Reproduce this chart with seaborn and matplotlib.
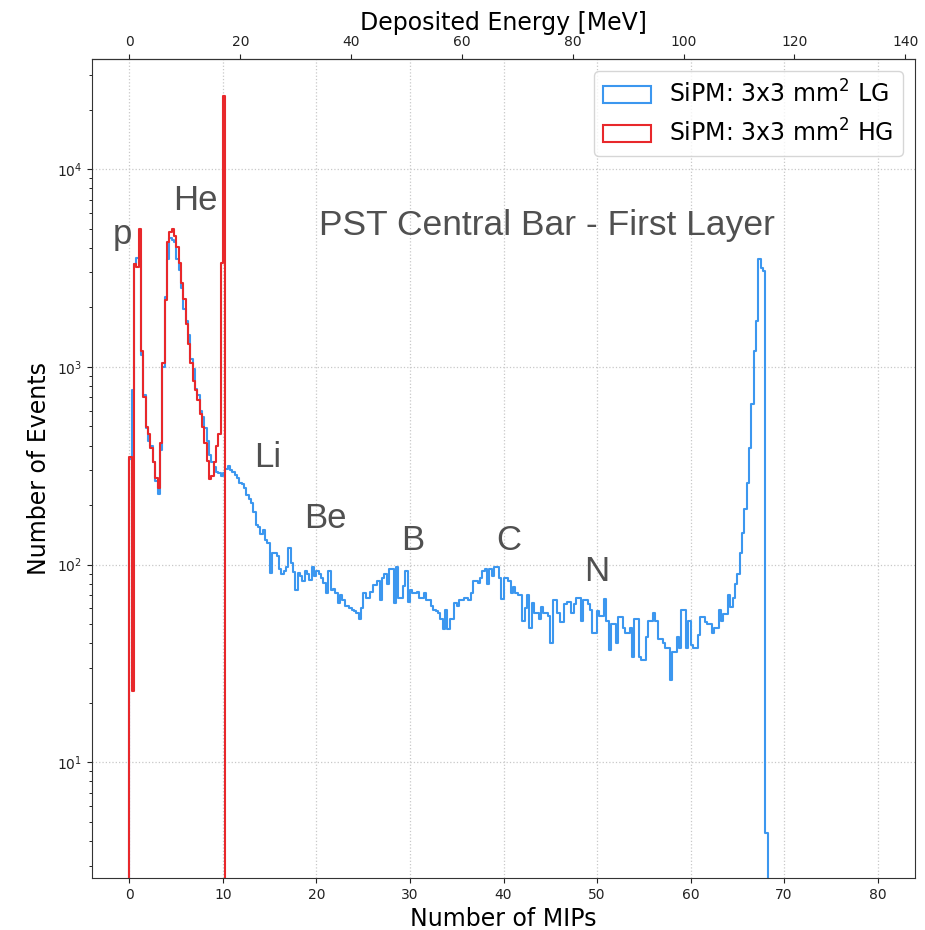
import numpy as np
import pandas as pd
import matplotlib
matplotlib.use("Agg")
import matplotlib.pyplot as plt
from matplotlib.patches import Patch
import seaborn as sns

# Histogram binning in MIPs (0.25 MIP wide bins; one empty bin below zero)
BIN_WIDTH = 0.25
BIN_START = -0.25
BIN_STOP = 80.0

# Low-gain channel counts per bin, starting at 0 MIP
LG_COUNTS = [
    340, 760, 3300, 3550, 3450, 1150, 720, 490, 420, 400,
    330, 265, 228, 380, 1000, 2250, 3500, 4500, 4400, 4300,
    3500, 3100, 2500, 1950, 1700, 1450, 1100, 980, 770, 720,
    600, 560, 490, 420, 360, 330, 310, 295, 290, 280,
    290, 305, 315, 300, 295, 285, 275, 260, 255, 243,
    225, 215, 205, 185, 158, 155, 142, 150, 133, 128,
    91, 115, 114, 110, 95, 90, 93, 97, 121, 102,
    92, 74, 91, 88, 83, 93, 90, 84, 97, 88,
    93, 90, 86, 81, 72, 93, 74, 75, 72, 64,
    70, 66, 62, 62, 60, 59, 58, 57, 53, 60,
    72, 68, 68, 73, 79, 79, 83, 66, 86, 90,
    80, 95, 95, 64, 97, 68, 68, 78, 93, 65,
    74, 72, 72, 73, 68, 68, 72, 66, 66, 62,
    59, 58, 57, 53, 47, 59, 47, 53, 53, 64,
    62, 66, 66, 68, 68, 66, 72, 83, 83, 81,
    86, 93, 95, 80, 95, 88, 97, 97, 86, 67,
    86, 86, 83, 72, 77, 72, 70, 70, 52, 60,
    70, 48, 64, 57, 57, 53, 61, 57, 57, 55,
    40, 66, 66, 57, 51, 51, 63, 65, 65, 57,
    63, 68, 68, 52, 66, 66, 63, 59, 45, 45,
    58, 55, 55, 67, 52, 37, 50, 50, 40, 54,
    54, 48, 45, 45, 48, 34, 53, 53, 34, 33,
    33, 43, 52, 52, 57, 52, 42, 42, 40, 38,
    38, 26, 36, 36, 43, 38, 59, 59, 38, 52,
    39, 38, 38, 44, 54, 54, 51, 50, 50, 45,
    48, 48, 59, 52, 56, 56, 70, 61, 68, 80,
    90, 115, 145, 190, 260, 390, 650, 1200, 1700, 3500,
    3150, 3050, 4.4,
]

# High-gain channel counts per bin, starting at 0 MIP (saturates near 10 MIP)
HG_COUNTS = [
    350, 23, 3300, 3200, 5000, 1200, 700, 495, 460, 390,
    330, 275, 245, 410, 1040, 2170, 4300, 4800, 5000, 4600,
    4030, 3340, 2650, 2200, 1650, 1300, 1050, 850, 760, 680,
    580, 495, 410, 335, 270, 280, 330, 400, 460, 3340,
    23500,
]

SERIES_LABELS = ["SiPM: 3x3 mm$^2$ LG", "SiPM: 3x3 mm$^2$ HG"]

# Charge labels: (text, MIP position, count level of baseline)
PEAK_LABELS = ["p", "He", "Li", "Be", "B", "C", "N"]
PEAK_X = [-0.75, 7.07, 14.78, 20.98, 30.3, 40.58, 50.0]
PEAK_Y = [4170, 6200, 310, 153, 118, 118, 82.4]

TITLE_TEXT = "PST Central Bar - First Layer"
TITLE_X = 44.65
TITLE_Y = 4630

MEV_PER_MIP = 1.6875

BLUE = "#3c97ef"
RED = "#e8282b"
TEXT_GREY = "#505050"

edges = np.arange(BIN_START, BIN_STOP + BIN_WIDTH / 2, BIN_WIDTH)
n_bins = len(edges) - 1
centers = 0.5 * (edges[:-1] + edges[1:])


def padded(counts):
    full = np.zeros(n_bins)
    full[1:1 + len(counts)] = counts
    return full


hist_df = pd.DataFrame({"mip": centers, "lg": padded(LG_COUNTS),
                        "hg": padded(HG_COUNTS)})
bin_list = edges.tolist()

fig = plt.figure(figsize=(9.25, 9.3), dpi=100)
ax = fig.add_axes([0.0995, 0.0559, 0.8897, 0.8806])
ax.set_yscale("log")

sns.histplot(data=hist_df, x="mip", weights="lg", bins=bin_list,
             element="step", fill=False, color=BLUE, linewidth=1.5, ax=ax)
sns.histplot(data=hist_df, x="mip", weights="hg", bins=bin_list,
             element="step", fill=False, color=RED, linewidth=1.5, ax=ax)

ax.set_xlim(-4, 84)
ax.set_ylim(2.6, 36000)
ax.grid(True, which="major", linestyle=":", color="#c8c8c8", linewidth=0.9)
ax.set_axisbelow(True)

ax.set_xlabel("Number of MIPs", fontsize=17)
ax.set_ylabel("Number of Events", fontsize=17)
ax.tick_params(labelsize=10, colors="#222222")
for spine in ax.spines.values():
    spine.set_color("#333333")

top = ax.secondary_xaxis("top", functions=(lambda m: m * MEV_PER_MIP,
                                           lambda e: e / MEV_PER_MIP))
top.set_xlabel("Deposited Energy [MeV]", fontsize=17)
top.set_xticks(np.arange(0, 141, 20))
top.tick_params(labelsize=10, colors="#222222")

for label, x, y in zip(PEAK_LABELS, PEAK_X, PEAK_Y):
    ax.text(x, y, label, ha="center", va="baseline", fontsize=25,
            family="Liberation Sans", color=TEXT_GREY)
ax.text(TITLE_X, TITLE_Y, TITLE_TEXT, ha="center", va="baseline",
        fontsize=25.5, family="Liberation Sans", color=TEXT_GREY)

handles = [Patch(facecolor="none", edgecolor=BLUE, linewidth=1.5),
           Patch(facecolor="none", edgecolor=RED, linewidth=1.5)]
ax.legend(handles, SERIES_LABELS, loc="upper right", fontsize=17)

fig.savefig("out.png", dpi=100)
